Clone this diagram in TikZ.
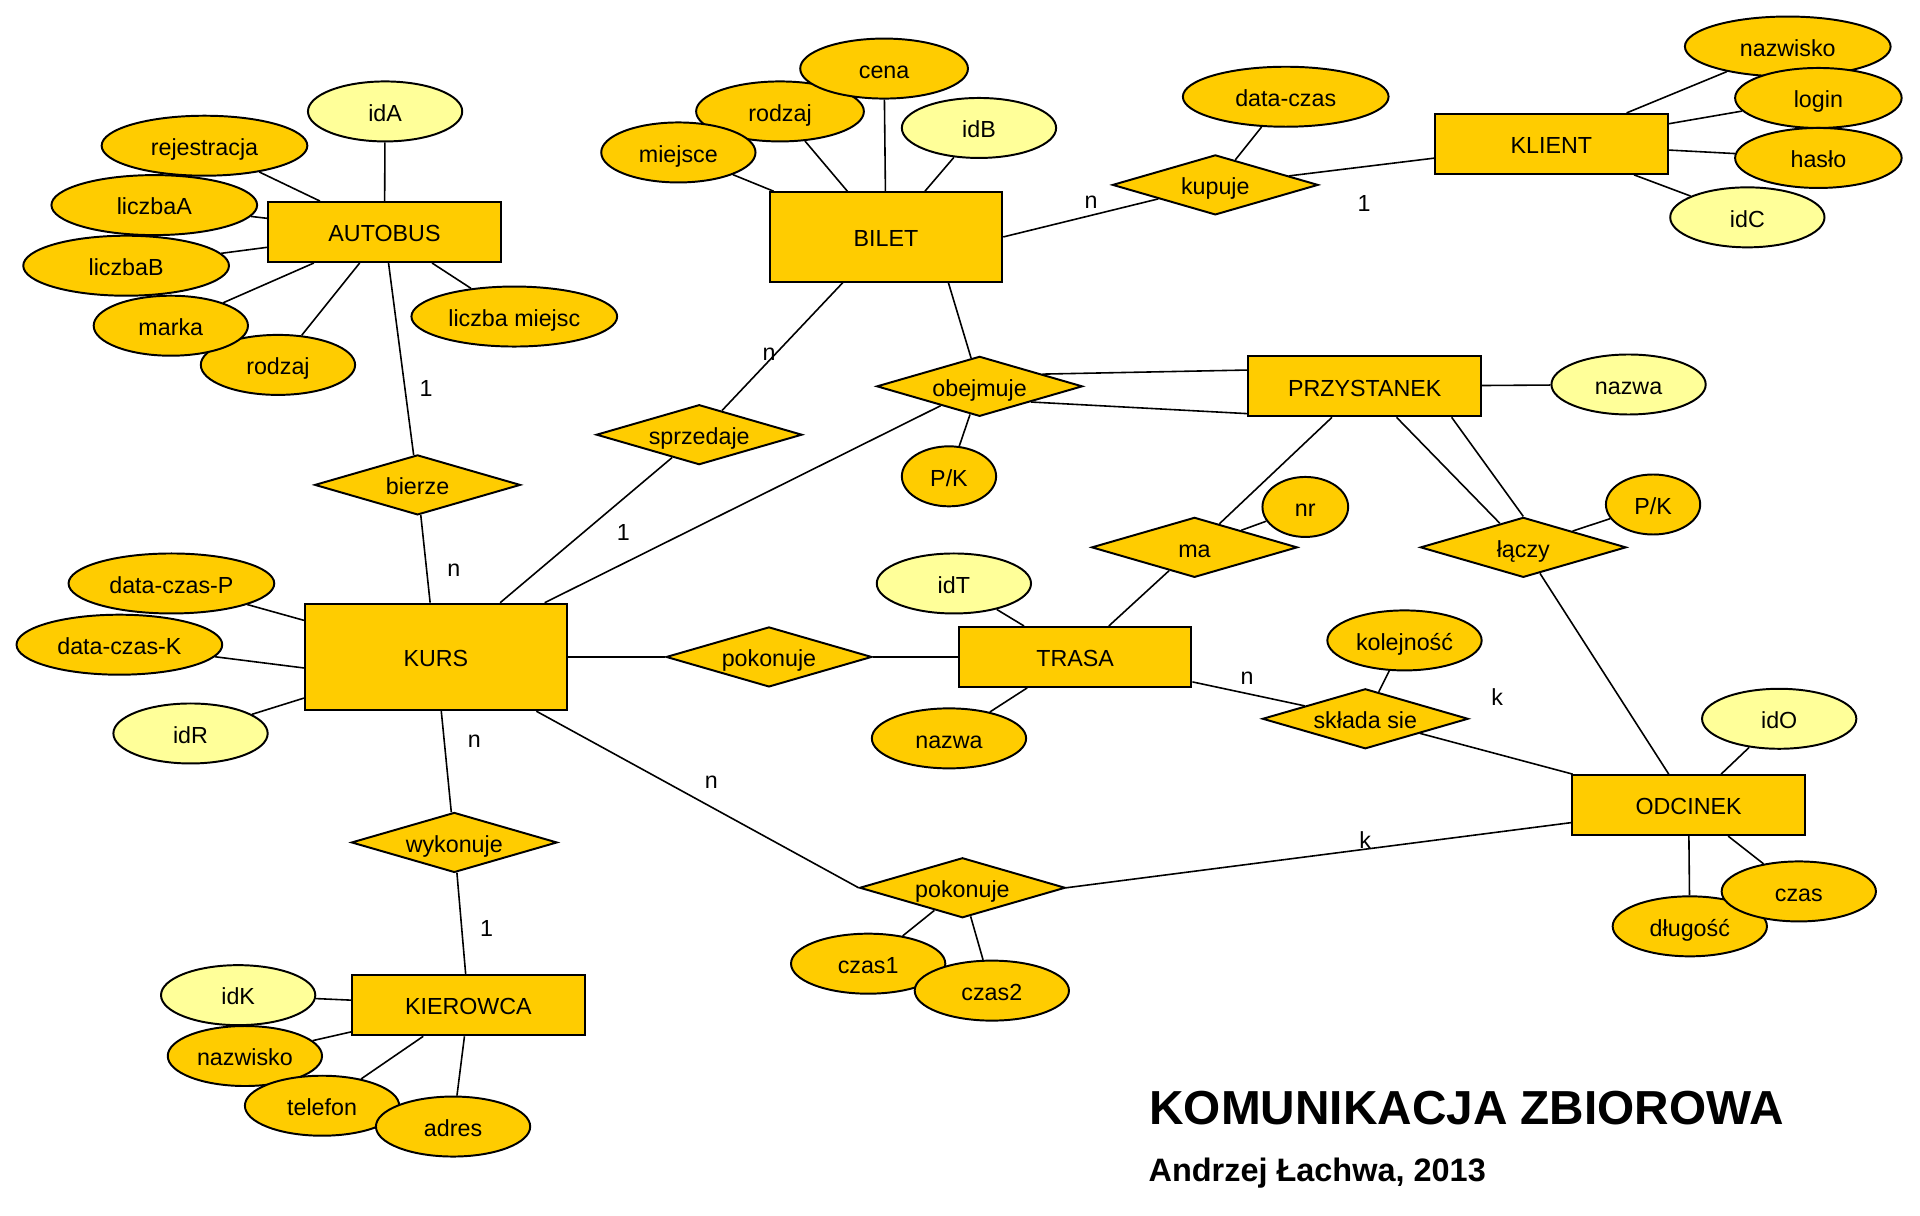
\documentclass[tikz,border=0pt]{standalone}
\usepackage{fontspec}
\setmainfont{Liberation Sans}
\usetikzlibrary{shapes.geometric, positioning}
\definecolor{erGold}{RGB}{255,204,0}
\definecolor{erPale}{RGB}{255,255,153}

\begin{document}
\begin{tikzpicture}[
  x=1pt, y=-1pt,
  every node/.style={font=\fontsize{19}{22}\selectfont, text height=15.8pt, text depth=0pt},
  entity/.style={draw, line width=1.6pt, fill=erGold, minimum width=190pt,
                 minimum height=49pt, inner sep=0pt},
  relation/.style={diamond, aspect=3.4, draw, line width=1.6pt, fill=erGold,
                   minimum width=168pt, minimum height=49pt, inner sep=0pt},
  attr/.style={ellipse, draw, line width=1.6pt, fill=erGold,
               minimum width=126pt, minimum height=49pt, inner sep=0pt},
  keyattr/.style={attr, fill=erPale},
  wide/.style={minimum width=168pt},
  conn/.style={line width=1.3pt},
  card/.style={inner sep=0pt, text height=, text depth=, anchor=base}
]
  \useasboundingbox (0,0) rectangle (1568,993);

  \node[entity] (autobus) at (314,189.5) {AUTOBUS};
  \node[entity, minimum height=73pt] (bilet) at (723.5,193.5) {BILET};
  \node[entity] (klient) at (1267,117.5) {KLIENT};
  \node[entity] (przystanek) at (1114.5,315.5) {PRZYSTANEK};
  \node[entity, minimum width=214pt, minimum height=87pt] (kurs) at (356,536.5) {KURS};
  \node[entity] (trasa) at (878,536.5) {TRASA};
  \node[entity] (odcinek) at (1379,657.5) {ODCINEK};
  \node[entity] (kierowca) at (382.5,821) {KIEROWCA};

  \node[relation] (kupuje) at (992.5,151) {kupuje};
  \node[relation] (sprzedaje) at (571,355) {sprzedaje};
  \node[relation] (obejmuje) at (800,315.5) {obejmuje};
  \node[relation] (bierze) at (341,396) {bierze};
  \node[relation] (ma) at (975.5,447) {ma};
  \node[relation] (laczy) at (1244,447) {łączy};
  \node[relation] (pokonujeT) at (628,536.5) {pokonuje};
  \node[relation] (skladasie) at (1115,587) {składa sie};
  \node[relation] (wykonuje) at (371,688) {wykonuje};
  \node[relation] (pokonujeO) at (786,725) {pokonuje};

  \node[keyattr] (idA) at (314.5,91) {idA};
  \node[attr, wide] (rejestracja) at (167,119) {rejestracja};
  \node[attr, wide] (liczbaA) at (126,167.5) {liczbaA};
  \node[attr, wide] (liczbaB) at (103,217) {liczbaB};
  \node[attr, wide] (liczbaMiejsc) at (420,258.5) {liczba miejsc};
  \node[attr] (rodzajA) at (227,298) {rodzaj};
  \node[attr] (marka) at (139.5,266) {marka};

  \node[attr, minimum width=137pt] (rodzajB) at (637,91) {rodzaj};
  \node[attr, minimum width=137pt] (cena) at (722,56) {cena};
  \node[attr] (miejsce) at (554,124.5) {miejsce};
  \node[keyattr] (idB) at (799.5,104.5) {idB};

  \node[attr, wide] (dataczas) at (1050,79) {data-czas};
  \node[attr, wide] (nazwiskoC) at (1460,38) {nazwisko};
  \node[attr, minimum width=136pt] (login) at (1485,80) {login};
  \node[attr, minimum width=136pt] (haslo) at (1485,129) {hasło};
  \node[keyattr] (idC) at (1427,177.5) {idC};

  \node[keyattr] (nazwaP) at (1330,314) {nazwa};
  \node[attr, minimum width=77pt] (pkO) at (775,389) {P/K};
  \node[attr, minimum width=70pt] (nr) at (1066,414) {nr};
  \node[attr, minimum width=77pt] (pkL) at (1350,412) {P/K};

  \node[keyattr] (idT) at (779,476.5) {idT};
  \node[attr] (nazwaT) at (775,603) {nazwa};
  \node[attr] (kolejnosc) at (1147,523) {kolejność};

  \node[keyattr] (idO) at (1453,587) {idO};
  \node[attr] (dlugosc) at (1380,756.5) {długość};
  \node[attr] (czas) at (1469,728) {czas};

  \node[attr] (czas1) at (709,787) {czas1};
  \node[attr] (czas2) at (810,809) {czas2};

  \node[attr, wide] (dataczasP) at (140,476.5) {data-czas-P};
  \node[attr, wide] (dataczasK) at (97.5,526.5) {data-czas-K};
  \node[keyattr] (idR) at (155.6,599) {idR};

  \node[keyattr] (idK) at (194.5,812.7) {idK};
  \node[attr] (nazwiskoK) at (200,862.4) {nazwisko};
  \node[attr] (telefon) at (263,903) {telefon};
  \node[attr] (adres) at (370,920) {adres};

  \draw[conn] (autobus) -- (idA);
  \draw[conn] (autobus) -- (rejestracja);
  \draw[conn] (autobus) -- (liczbaA);
  \draw[conn] (autobus) -- (liczbaB);
  \draw[conn] (autobus) -- (marka);
  \draw[conn] (autobus) -- (rodzajA);
  \draw[conn] (autobus) -- (liczbaMiejsc);
  \draw[conn] (autobus) -- (bierze);
  \draw[conn] (bierze) -- (kurs);

  \draw[conn] (bilet) -- (rodzajB);
  \draw[conn] (bilet) -- (cena);
  \draw[conn] (bilet) -- (miejsce);
  \draw[conn] (bilet) -- (idB);
  \draw[conn] (bilet) -- (sprzedaje);
  \draw[conn] (sprzedaje) -- (kurs);
  \draw[conn] ([xshift=51pt]bilet.south) -- (obejmuje);
  \draw[conn] (bilet.east) -- (kupuje);

  \draw[conn] (kupuje) -- (klient);
  \draw[conn] (kupuje) -- (dataczas);
  \draw[conn] (klient) -- (nazwiskoC);
  \draw[conn] (klient) -- (login);
  \draw[conn] (klient) -- (haslo);
  \draw[conn] (klient) -- (idC);

  \draw[conn] (przystanek) -- (nazwaP);
  \draw[conn] (obejmuje.11) -- ([yshift=-12pt]przystanek.north west);
  \draw[conn] (obejmuje.-17) -- ([yshift=3pt]przystanek.south west);
  \draw[conn] (obejmuje) -- (pkO);
  \draw[conn] (obejmuje) -- (kurs);
  \draw[conn] (przystanek) -- (ma);
  \draw[conn] (ma) -- (nr);
  \draw[conn] (ma) -- (trasa);
  \draw[conn] ([xshift=26pt]przystanek.south) -- (laczy);
  \draw[conn] ([xshift=71pt]przystanek.south) -- (laczy.north);
  \draw[conn] (laczy) -- (pkL);
  \draw[conn] (laczy) -- (odcinek);

  \draw[conn] (kurs) -- (dataczasP);
  \draw[conn] (dataczasK) -- ([yshift=-9pt]kurs.west);
  \draw[conn] (kurs) -- (idR);
  \draw[conn] (kurs) -- (pokonujeT);
  \draw[conn] (pokonujeT) -- (trasa);
  \draw[conn] (kurs) -- (wykonuje);
  \draw[conn] (wykonuje) -- (kierowca);
  \draw[conn] ([xshift=82pt]kurs.south) -- (pokonujeO.west);
  \draw[conn] (pokonujeO.east) -- ([yshift=11pt]odcinek.south west);
  \draw[conn] (pokonujeO) -- (czas1);
  \draw[conn] (pokonujeO) -- (czas2);

  \draw[conn] (trasa) -- (idT);
  \draw[conn] (trasa) -- (nazwaT);
  \draw[conn] (trasa) -- (skladasie);
  \draw[conn] (skladasie) -- (kolejnosc);
  \draw[conn] (skladasie) -- (odcinek);

  \draw[conn] (odcinek) -- (idO);
  \draw[conn] (odcinek) -- (dlugosc);
  \draw[conn] (odcinek) -- (czas);

  \draw[conn] (kierowca) -- (idK);
  \draw[conn] (kierowca) -- (nazwiskoK);
  \draw[conn] (kierowca) -- (telefon);
  \draw[conn] (kierowca) -- (adres);

  \node[card] (c1) at (348,323.8) {1};
  \node[card] (c2) at (370.7,471) {n};
  \node[card] (c3) at (628,294) {n};
  \node[card] (c4) at (509,441) {1};
  \node[card] (c5) at (891,170) {n};
  \node[card] (c6) at (1114,173) {1};
  \node[card] (c7) at (387.3,610.6) {n};
  \node[card] (c8) at (397.3,765) {1};
  \node[card] (c9) at (581,644) {n};
  \node[card] (c10) at (1114.8,692.8) {k};
  \node[card] (c11) at (1018.4,558.6) {n};
  \node[card] (c12) at (1222.6,576.5) {k};

  \node[anchor=base west, inner sep=0pt, text height=, text depth=,
        font=\fontsize{39}{44}\selectfont\bfseries] (title) at (938.5,918.7)
        {KOMUNIKACJA ZBIOROWA};
  \node[anchor=base west, inner sep=0pt, text height=, text depth=,
        font=\fontsize{26.5}{30}\selectfont\bfseries] (author) at (937.8,965)
        {Andrzej Łachwa, 2013};
\end{tikzpicture}
\end{document}
